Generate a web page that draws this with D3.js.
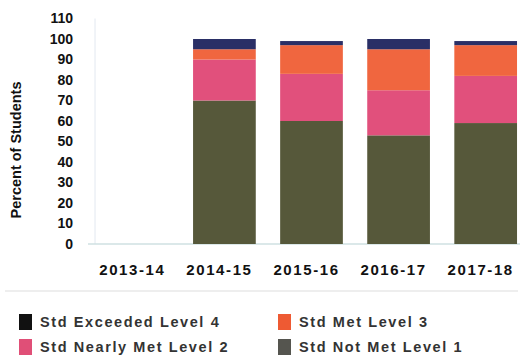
<!DOCTYPE html>
<html>
<head>
<meta charset="utf-8">
<script src="https://cdn.jsdelivr.net/npm/d3@7"></script>
<style>
  body { margin: 0; background: #fff; }
  svg { font-family: "Liberation Sans", Arial, sans-serif; }
</style>
</head>
<body>
<div id="chart"></div>
<script>
// data
const years = ["2013-14", "2014-15", "2015-16", "2016-17", "2017-18"];
const notMet = [0, 70, 60, 53, 59];
const nearlyMet = [0, 20, 23, 22, 23];
const met = [0, 5, 14, 20, 15];
const exceeded = [0, 5, 2, 5, 2];
const yTicks = [0, 10, 20, 30, 40, 50, 60, 70, 80, 90, 100, 110];

const seriesKeys = ["notMet", "nearlyMet", "met", "exceeded"];
const seriesNames = {
  exceeded: "Std Exceeded Level 4",
  met: "Std Met Level 3",
  nearlyMet: "Std Nearly Met Level 2",
  notMet: "Std Not Met Level 1"
};
const barColor = {
  notMet: "#56583a",
  nearlyMet: "#e1507c",
  met: "#f0663f",
  exceeded: "#2a2f66"
};
const swatchColor = {
  notMet: "#55554f",
  nearlyMet: "#e04f77",
  met: "#ee5a33",
  exceeded: "#111111"
};
const legendOrder = ["exceeded", "met", "nearlyMet", "notMet"];

let width = 520, height = 360;

let rows = years.map((yr, i) => ({
  year: yr,
  notMet: notMet[i],
  nearlyMet: nearlyMet[i],
  met: met[i],
  exceeded: exceeded[i]
}));

let svg = d3.select("#chart").append("svg")
  .attr("width", width)
  .attr("height", height);

let x = d3.scaleBand()
  .domain(years)
  .range([95, 528])
  .paddingInner(0.28)
  .paddingOuter(0.126);

let y = d3.scaleLinear()
  .domain([0, 110])
  .range([244, 18.5]);

// axis lines
svg.append("line")
  .attr("x1", 95).attr("x2", 95)
  .attr("y1", y(110)).attr("y2", y(0))
  .attr("stroke", "#e2e8f0").attr("stroke-width", 1);

svg.append("line")
  .attr("x1", 88).attr("x2", 520)
  .attr("y1", y(0)).attr("y2", y(0))
  .attr("stroke", "#cfe0e2").attr("stroke-width", 1.5);

// stacked bars
let stacked = d3.stack().keys(seriesKeys)(rows);

svg.append("g").selectAll("g")
  .data(stacked)
  .join("g")
  .attr("fill", d => barColor[d.key])
  .selectAll("rect")
  .data(d => d.filter(s => s[1] - s[0] > 0))
  .join("rect")
  .attr("x", d => x(d.data.year))
  .attr("width", x.bandwidth())
  .attr("y", d => y(d[1]))
  .attr("height", d => y(d[0]) - y(d[1]));

// y axis labels
let yAxis = d3.axisLeft(y).tickValues(yTicks).tickSize(0).tickPadding(0);
let gy = svg.append("g")
  .attr("transform", "translate(73,0)")
  .call(yAxis);
gy.select(".domain").remove();
gy.selectAll("text")
  .attr("font-size", 14)
  .attr("font-weight", "bold")
  .attr("fill", "#111")
  .attr("font-family", "Liberation Sans, Arial, sans-serif");

// x axis labels (sit a little left of the bar centres)
let xAxis = d3.axisBottom(x).tickSize(0).tickPadding(0);
let gx = svg.append("g")
  .attr("transform", "translate(-5,264)")
  .call(xAxis);
gx.select(".domain").remove();
gx.selectAll("text")
  .attr("font-size", 15)
  .attr("font-weight", "bold")
  .attr("fill", "#111")
  .attr("letter-spacing", 1.6)
  .attr("font-family", "Liberation Sans, Arial, sans-serif");

// y title
svg.append("text")
  .attr("transform", "translate(21,150) rotate(-90)")
  .attr("text-anchor", "middle")
  .attr("font-size", 14.5)
  .attr("font-weight", "bold")
  .attr("fill", "#111")
  .text("Percent of Students");

// separator
svg.append("line")
  .attr("x1", 5).attr("x2", 518)
  .attr("y1", 291).attr("y2", 291)
  .attr("stroke", "#e8e8e8").attr("stroke-width", 1.5);

// legend
let legend = svg.append("g").selectAll("g")
  .data(legendOrder)
  .join("g")
  .attr("transform", (d, i) => "translate(" + (i % 2 === 0 ? 19 : 278) + "," + (i < 2 ? 322 : 347) + ")");

legend.append("rect")
  .attr("x", 0).attr("y", -8)
  .attr("width", 13).attr("height", 16)
  .attr("fill", d => swatchColor[d]);

legend.append("text")
  .attr("x", 21)
  .attr("dy", "0.36em")
  .attr("font-size", 14.5)
  .attr("font-weight", "bold")
  .attr("letter-spacing", 1.6)
  .attr("fill", "#333")
  .text(d => seriesNames[d]);
</script>
</body>
</html>
